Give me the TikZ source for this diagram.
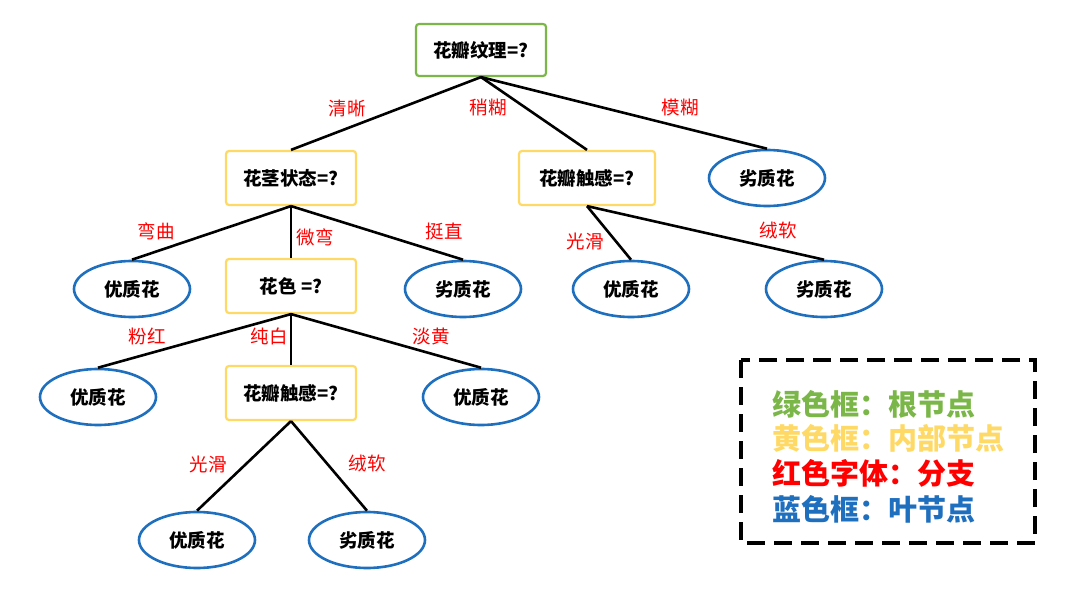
\documentclass[tikz,border=0pt]{standalone}
\usepackage{fontspec}
\newfontfamily\cjk{Noto Sans CJK SC}
\usetikzlibrary{shapes.geometric,backgrounds}
\definecolor{vert}{HTML}{7AB648}
\definecolor{jaune}{HTML}{FFD966}
\definecolor{bleu}{HTML}{1F6FBF}

\begin{document}
\begin{tikzpicture}[x=1pt,y=-1pt]
  %
% Styles
%
\tikzset{every node/.style={font=\cjk\fontsize{18.5}{22}\selectfont\bfseries}};%
\tikzset{racine/.style={draw=vert, line width=2.2pt, rounded corners=3pt, minimum width=130, minimum height=52}};%
\tikzset{interne/.style={draw=jaune, line width=2.2pt, rounded corners=3pt, minimum width=130, minimum height=54}};%
\tikzset{feuille/.style={ellipse, draw=bleu, line width=2.6pt, minimum width=116, minimum height=56}};%
\tikzset{branche/.style={text=red, font=\cjk\fontsize{18.5}{22}\selectfont}};%
\tikzset{arete/.style={line width=2.6pt}};%

\useasboundingbox (0,0) rectangle (1075,609);%

%
% Nodes
%
\node[racine] (racine) at (481,50) {花瓣纹理=?};%
\node[interne] (tige) at (291,178) {花茎状态=?};%
\node[interne, minimum width=136] (toucher) at (587,178) {花瓣触感=?};%
\node[feuille] (fA) at (767,178) {劣质花};%
\node[feuille] (fB) at (132,289) {优质花};%
\node[interne] (couleur) at (291,286) {花色 =?};%
\node[feuille] (fC) at (463,289) {劣质花};%
\node[feuille] (fD) at (631,289) {优质花};%
\node[feuille] (fE) at (824,289) {劣质花};%
\node[feuille] (fF) at (98,397) {优质花};%
\node[interne] (toucherb) at (291,393) {花瓣触感=?};%
\node[feuille] (fG) at (481,397) {优质花};%
\node[feuille] (fH) at (197,540) {优质花};%
\node[feuille] (fI) at (367,540) {劣质花};%

%
% Edges
%
\draw[arete] (racine.south) -- (tige.north);%
\draw[arete] (racine.south) -- (toucher.north);%
\draw[arete] (racine.south) -- (fA.north);%
\draw[arete] (tige.south) -- (fB.north);%
\draw[arete] (tige.south) -- (couleur.north);%
\draw[arete] (tige.south) -- (fC.north);%
\draw[arete] (toucher.south) -- (fD.north);%
\draw[arete] (toucher.south) -- (fE.north);%
\draw[arete] (couleur.south) -- (fF.north);%
\draw[arete] (couleur.south) -- (toucherb.north);%
\draw[arete] (couleur.south) -- (fG.north);%
\draw[arete] (toucherb.south) -- (fH.north);%
\draw[arete] (toucherb.south) -- (fI.north);%

%
% Branch labels
%
\node[branche] (b1) at (347,108) {清晰};%
\node[branche] (b2) at (488,108) {稍糊};%
\node[branche] (b3) at (680,108) {模糊};%
\node[branche] (b4) at (156,231) {弯曲};%
\node[branche] (b5) at (315,237) {微弯};%
\node[branche] (b6) at (444,231) {挺直};%
\node[branche] (b7) at (585,241) {光滑};%
\node[branche] (b8) at (778,231) {绒软};%
\node[branche] (b9) at (147,336) {粉红};%
\node[branche] (b10) at (269,336) {纯白};%
\node[branche] (b11) at (431,336) {淡黄};%
\node[branche] (b12) at (208,464) {光滑};%
\node[branche] (b13) at (367,464) {绒软};%

%
% Legend
%
\draw[line width=3.5pt, dash pattern=on 18pt off 9pt] (741,360) rectangle (1035,543);%
\tikzset{legende/.style={anchor=west, inner sep=0pt, font=\cjk\fontsize{29}{32}\selectfont\bfseries}};%
\node[legende, text=vert] (l1) at (772,404) {绿色框：根节点};%
\node[legende, text=jaune] (l2) at (772,438) {黄色框：内部节点};%
\node[legende, text=red] (l3) at (772,473) {红色字体：分支};%
\node[legende, text=bleu] (l4) at (772,509) {蓝色框：叶节点};%
\end{tikzpicture}
\end{document}
